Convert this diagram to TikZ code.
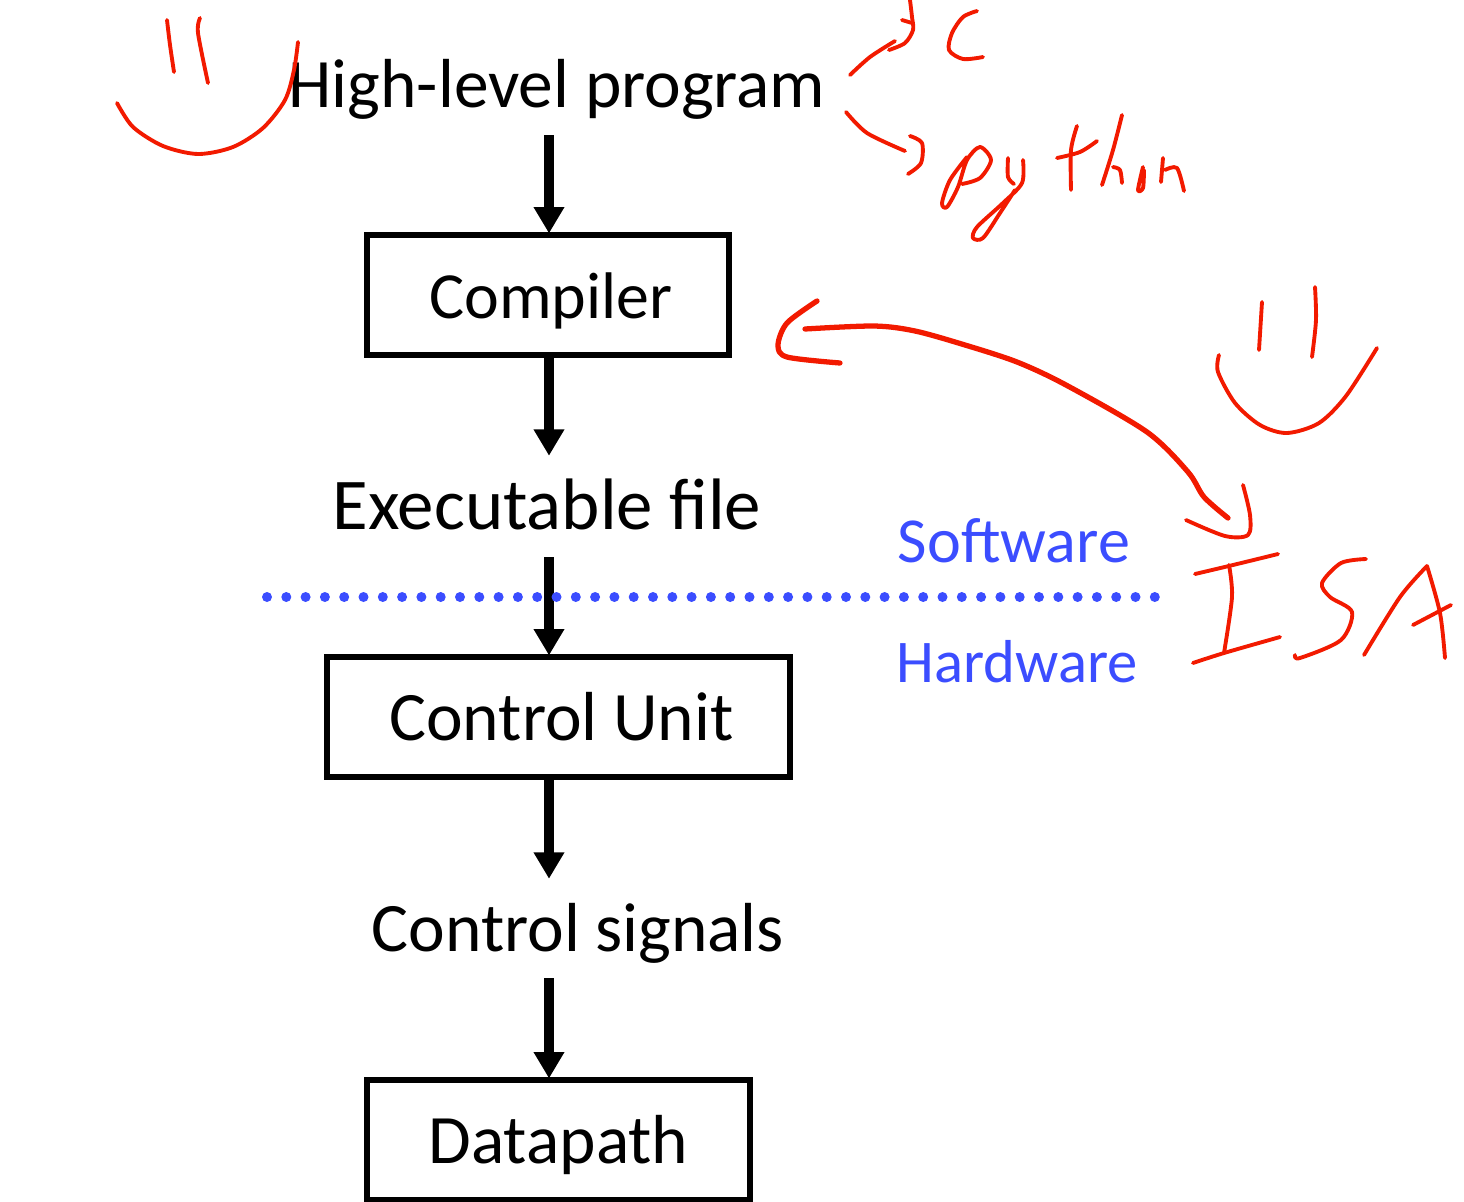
\documentclass[tikz,border=0pt]{standalone}
\usepackage{fontspec}
\setmainfont{Carlito}
\usepackage{xcolor}
\usetikzlibrary{arrows.meta}
\definecolor{ink}{HTML}{F21A00}
\definecolor{line}{HTML}{3B4DFF}
\newcommand{\fsize}[1]{\fontsize{#1}{#1}\selectfont}
\tikzset{
  lab/.style={text=black, font=\fsize{39.5}, text height=30pt, text depth=3pt, inner sep=0pt},
  box/.style={lab, draw=black, line width=3.8pt, minimum height=2.4cm},
  flow/.style={draw=black, line width=5.4pt, shorten >=-1pt, -{Triangle[width=16.5pt, length=15pt]}},
  side/.style={text=line, text height=25pt, text depth=1pt, inner sep=0pt},
  pen/.style={draw=ink, line width=2.2pt, line cap=round, line join=round},
  penb/.style={pen, line width=3pt},
}
\begin{document}
\begin{tikzpicture}[x=0.02cm, y=-0.02cm]
  \useasboundingbox (0,0) rectangle (1464,1201);
  \coordinate (spine) at (549,0);
  % flow of the program
  \node[lab] (high) at (557,84) {High-level program};
  \node[box, minimum width=7.24cm, font=\fsize{37.5}] (comp) at (548,295) {\hspace*{3.4pt}Compiler};
  \node[lab, font=\fsize{41.5}] (exec) at (547,506) {Executable file};
  \node[box, minimum width=9.26cm] (ctrl) at (558.5,717) {\hspace*{3.4pt}Control Unit};
  \node[lab] (sigs) at (578,928) {Control signals};
  \node[box, minimum width=7.66cm] (path) at (558.5,1140) {Datapath};
  \draw[flow] (549,135) -- (comp.north -| spine);
  \draw[flow] (comp.south -| spine) -- (549,454);
  \draw[flow] (549,557) -- (ctrl.north -| spine);
  \draw[flow] (ctrl.south -| spine) -- (549,877);
  \draw[flow] (549,978) -- (path.north -| spine);
  % boundary
  \foreach \i in {0,...,46}
    \fill[line] ({267+\i*19.3},597) circle (5);
  \node[side, font=\fsize{36.5}] (soft) at (1014,541) {Software};
  \node[side, font=\fsize{34.5}] (hard) at (1017,661) {Hardware};
  % smile, left
  \draw[pen] plot[smooth] coordinates {(167,20) (170,45) (174,72)};
  \draw[pen] plot[smooth] coordinates {(200,18) (198,33) (208,83)};
  \draw[pen] plot[smooth] coordinates {(117,103) (133,127) (163,146) (198,154) (233,147) (263,128) (285,100) (294,70) (298,42)};
  % c
  \draw[pen] plot[smooth] coordinates {(850,75) (870,57) (895,41)};
  \draw[pen] plot[smooth] coordinates {(910,0) (912,17) (913,30) (905,43) (889,50)};
  \draw[pen] (902,20) -- (912,23);
  \draw[pen] plot[smooth] coordinates {(977,11) (963,17) (952,33) (949,50) (963,59) (983,57)};
  % python
  \draw[pen] plot[smooth] coordinates {(846,112) (867,133) (905,151)};
  \draw[pen] plot[smooth] coordinates {(910,136) (922,143) (921,163) (908,174)};
  \draw[pen] plot[smooth] coordinates {(967,157) (950,180) (942,203) (947,207) (958,187) (967,160) (980,147) (991,160) (980,178) (962,184)};
  \draw[pen] plot[smooth] coordinates {(1008,158) (1008,177) (1014,184)};
  \draw[pen] plot[smooth] coordinates {(1023,160) (1022,183) (1003,203) (977,227) (973,238) (983,238) (1000,213) (1015,190)};
  \draw[pen] plot[smooth] coordinates {(1077,126) (1071,150) (1071,190)};
  \draw[pen] plot[smooth] coordinates {(1057,158) (1080,152) (1097,141)};
  \draw[pen] plot[smooth] coordinates {(1122,115) (1113,150) (1102,185)};
  \draw[pen] plot[smooth] coordinates {(1113,167) (1120,170) (1122,183)};
  \draw[pen] plot[smooth] coordinates {(1143,167) (1138,190) (1143,188) (1144,170)};
  \draw[pen] plot[smooth] coordinates {(1163,158) (1161,182)};
  \draw[pen] plot[smooth] coordinates {(1165,170) (1177,168) (1184,191)};
  % isa
  \draw[penb] plot[smooth] coordinates {(805,329) (874,326) (915,331) (965,345) (1017,362) (1066,385) (1147,432) (1188,472) (1204,497) (1228,518)};
  \draw[penb] plot[smooth] coordinates {(817,301) (787,323) (778,345) (787,357) (840,363)};
  \draw[pen] plot[smooth] coordinates {(1243,485) (1250,515) (1248,535) (1225,536) (1186,520)};
  \draw[pen] plot[smooth] coordinates {(1262,302) (1259,350)};
  \draw[pen] plot[smooth] coordinates {(1315,287) (1316,320) (1312,357)};
  \draw[pen] plot[smooth] coordinates {(1219,355) (1218,372) (1235,403) (1260,425) (1287,433) (1319,423) (1346,396) (1377,348)};
  \draw[pen] plot[smooth] coordinates {(1195,574) (1233,565) (1278,554)};
  \draw[pen] plot[smooth] coordinates {(1229,565) (1232,597) (1224,653)};
  \draw[pen] plot[smooth] coordinates {(1193,663) (1224,653) (1280,637)};
  \draw[pen] plot[smooth] coordinates {(1366,559) (1341,563) (1322,583) (1330,597) (1352,612) (1341,640) (1300,658) (1295,655)};
  \draw[pen] plot[smooth] coordinates {(1364,655) (1400,597) (1427,566)};
  \draw[pen] plot[smooth] coordinates {(1427,566) (1440,613) (1445,658)};
  \draw[pen] plot[smooth] coordinates {(1413,625) (1451,605)};
\end{tikzpicture}
\end{document}
